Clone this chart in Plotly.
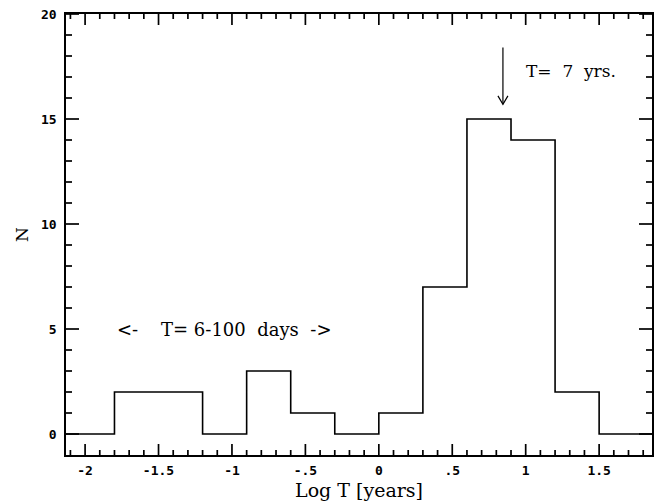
import plotly.graph_objects as go

bin_edges = [-2.4, -2.1, -1.8, -1.5, -1.2, -0.9, -0.6, -0.3, 0.0, 0.3, 0.6, 0.9, 1.2, 1.5, 1.8, 2.1]
counts = [0, 0, 2, 2, 0, 3, 1, 0, 1, 7, 15, 14, 2, 0, 0]

x_tick_vals = [-2, -1.5, -1, -0.5, 0, 0.5, 1, 1.5]
x_tick_text = ["-2", "-1.5", "-1", "-.5", "0", ".5", "1", "1.5"]
y_tick_vals = [0, 5, 10, 15, 20]
y_tick_text = ["0", "5", "10", "15", "20"]
x_minor_vals = [round(-2.1 + 0.1 * i, 2) for i in range(40)]
y_minor_vals = list(range(0, 21))

x_range = [-2.13, 1.86]
y_range = [-1, 20]

arrow_x = 0.845  # log10(7)
arrow_top, arrow_bottom = 18.4, 15.7

W, H = 659, 504
M = dict(l=66, r=7, t=14, b=49)
px_x = (x_range[1] - x_range[0]) / (W - M["l"] - M["r"])  # data units per pixel
px_y = (y_range[1] - y_range[0]) / (H - M["t"] - M["b"])

fig = go.Figure()
fig.add_trace(go.Scatter(
    x=bin_edges, y=counts + [counts[-1]],
    mode="lines", line=dict(shape="hv", color="black", width=1.6),
    showlegend=False, hoverinfo="skip"))

# arrow line and head
fig.add_trace(go.Scatter(
    x=[arrow_x, arrow_x], y=[arrow_top, arrow_bottom],
    mode="lines", line=dict(color="black", width=1.2), showlegend=False, hoverinfo="skip"))
fig.add_trace(go.Scatter(
    x=[arrow_x - 0.034, arrow_x, arrow_x + 0.034], y=[arrow_bottom + 0.4, arrow_bottom, arrow_bottom + 0.4],
    mode="lines", line=dict(color="black", width=1.2), showlegend=False, hoverinfo="skip"))

# tick marks (inside, on all four sides)
tx, ty = [], []
for v in x_minor_vals:
    L = (11 if any(abs(v - t) < 1e-6 for t in x_tick_vals) else 5) * px_y
    tx += [v, v, None, v, v, None]
    ty += [y_range[0], y_range[0] + L, None, y_range[1], y_range[1] - L, None]
for v in y_minor_vals:
    L = (13 if v in y_tick_vals else 6) * px_x
    tx += [x_range[0], x_range[0] + L, None, x_range[1], x_range[1] - L, None]
    ty += [v, v, None, v, v, None]
fig.add_trace(go.Scatter(x=tx, y=ty, mode="lines", line=dict(color="black", width=1.7),
                         showlegend=False, hoverinfo="skip", connectgaps=False))

serif = "DejaVu Serif"
tickfont = dict(family="DejaVu Sans Mono", size=13, color="black")

fig.add_annotation(x=0.99, y=17.3, text="T=&nbsp;&nbsp;7&nbsp;&nbsp;yrs.", showarrow=False,
                   xanchor="left", font=dict(family=serif, size=17, color="black"))
fig.add_annotation(x=-1.053, y=5,
                   text="&lt;-&nbsp;&nbsp;&nbsp;&nbsp;T=&nbsp;6-100&nbsp;&nbsp;days&nbsp;&nbsp;-&gt;",
                   showarrow=False, xanchor="center", font=dict(family=serif, size=18, color="black"))

axis_common = dict(
    tickmode="array", ticks="", automargin=False,
    showline=True, linecolor="black", linewidth=1.5, mirror=True,
    showgrid=False, zeroline=False, tickfont=tickfont,
)

fig.update_layout(
    width=W, height=H,
    margin=M,
    paper_bgcolor="white", plot_bgcolor="white",
    xaxis=dict(range=x_range, tickvals=x_tick_vals,
               ticktext=["<b>%s</b>" % t for t in x_tick_text], ticklabelstandoff=3,
               title=dict(text="Log T [years]", font=dict(family=serif, size=19, color="black"), standoff=6),
               **axis_common),
    yaxis=dict(range=y_range, tickvals=y_tick_vals,
               ticktext=["<b>%s</b>" % t for t in y_tick_text], ticklabelstandoff=5,
               title=dict(text="N", font=dict(family=serif, size=17, color="black"), standoff=8),
               **axis_common),
)

fig.write_html("out.html")
